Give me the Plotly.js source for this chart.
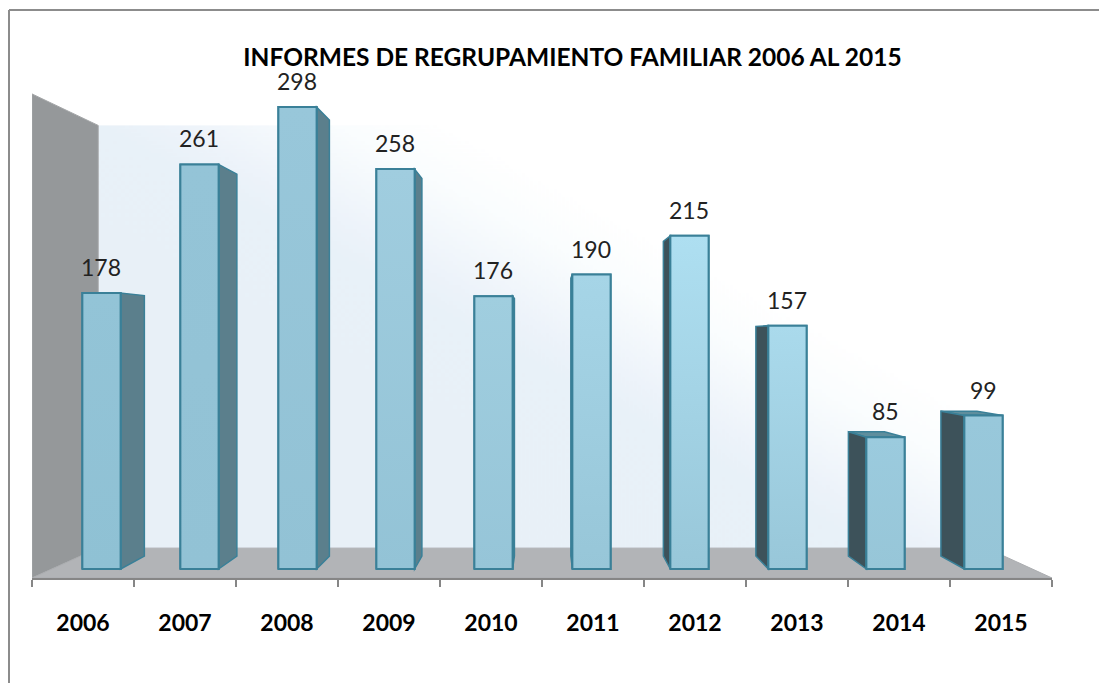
<!DOCTYPE html>
<html>
<head>
<meta charset="utf-8">
<script src="https://cdn.plot.ly/plotly-3.0.1.min.js"></script>
<style>html,body{margin:0;padding:0;background:#fff;overflow:hidden}#chart{width:1099px;height:683px}</style>
</head>
<body>
<div id="chart"></div>
<script>
const years = ['2006','2007','2008','2009','2010','2011','2012','2013','2014','2015'];
const informes = [178,261,298,258,176,190,215,157,85,99];
const topColors = ['#93C4D7','#94C4D7','#98C7DA','#A0CDDF','#A0CEDF','#A6D5E7','#AEDFF1','#AADAEC','#9BCBDE','#98C8DB'];
const baseColors = ['#8FC1D4','#92C2D5','#92C2D5','#93C3D6','#96C5D8','#97C6D8','#98C7D9','#98C7D9','#97C6D8','#96C5D7'];
const chartTitle = 'INFORMES DE REGRUPAMIENTO FAMILIAR 2006 AL 2015';

const barWidth = 0.39, xMin = -0.709, xMax = 9.699, yMin = -5.806, yMax = 360.65;
const vpX = 4.526, vpY = 149, barDepth = 0.056, wallDepth = 0.129, wallTop = 306.5;
const edge = '#3A8098';
const back = (v, vp, k) => v + (vp - v) * k;
const poly = pts => 'M' + pts.map(p => p[0] + ',' + p[1]).join('L') + 'Z';
const dataShape = (pts, fill, line, lw) => ({type:'path', xref:'x', yref:'y', layer:'between', path:poly(pts),
  fillcolor:fill, line:{color:line, width:lw}});

const blx = back(xMin, vpX, wallDepth), brx = back(xMax, vpX, wallDepth);
const bFloor = back(yMin, vpY, wallDepth) - 0.7, bTop = back(wallTop, vpY, wallDepth);

const shapes = [];
shapes.push(dataShape([[xMin,wallTop],[blx,bTop],[blx,bFloor],[xMin,yMin]], '#95989A', '#A3A5A7', 1));
shapes.push(dataShape([[xMin,yMin],[blx,bFloor],[brx,bFloor],[xMax,yMin]], '#B2B4B7', '#ABADB0', 1));

informes.forEach((v,i) => {
  const l = i - barWidth/2, r = i + barWidth/2;
  const left = i > vpX;
  const e = left ? l : r;
  const be = back(e, vpX, barDepth), b0 = back(0, vpY, barDepth), bv = back(v, vpY, barDepth);
  if (v < vpY) {
    shapes.push(dataShape([[l,v],[r,v],[back(r,vpX,barDepth),bv],[back(l,vpX,barDepth),bv]], '#5F8E9D', edge, 1.5));
  }
  shapes.push(dataShape([[e,0],[be,b0],[be,bv],[e,v]], left ? '#3D525A' : '#5B7F8C', edge, 1.5));
});

const bd = '#8C8C8C';
const px = x => (x - 32) / 1020, py = y => (578 - y) / 568;
shapes.push({type:'line', xref:'paper', yref:'paper', x0:px(9), x1:px(1099), y0:py(10), y1:py(10), line:{color:bd, width:2}, layer:'above'});
shapes.push({type:'line', xref:'paper', yref:'paper', x0:px(9), x1:px(9), y0:py(10), y1:py(683), line:{color:bd, width:2}, layer:'above'});

// back wall: diagonal light-blue to white wash
const cv = document.createElement('canvas'); cv.width = 444; cv.height = 211;
const cx = cv.getContext('2d');
const g = cx.createLinearGradient(-145, 112.5, -25, -107);
g.addColorStop(0, '#E8F0F7'); g.addColorStop(.668, '#E8F1F8'); g.addColorStop(.74, '#EDF3FA');
g.addColorStop(.9, '#FAFDFE'); g.addColorStop(1, '#FFFFFF');
cx.fillStyle = g; cx.fillRect(0, 0, 444, 211);

const traces = [
  {type:'bar', x:years, y:informes, width:barWidth, xaxis:'x', yaxis:'y', hoverinfo:'x+y',
   marker:{color:baseColors, line:{color:edge, width:2}}},
  {type:'scatter', mode:'none', x:years, y:informes, xaxis:'x2', yaxis:'y', hoverinfo:'skip', showlegend:false}
];
informes.forEach((v,i) => {
  const l = i - barWidth/2, r = i + barWidth/2;
  traces.push({type:'scatter', mode:'lines', xaxis:'x3', yaxis:'y', hoverinfo:'skip', showlegend:false,
    x:[l,r,r,l,l], y:[0,0,v,v,0], fill:'toself', line:{color:edge, width:2},
    fillgradient:{type:'vertical', start:v, stop:0, colorscale:[[0,topColors[i]],[1,baseColors[i]]]}});
});

const layout = {
  width:1099, height:683, showlegend:false, paper_bgcolor:'#fff', plot_bgcolor:'rgba(0,0,0,0)',
  margin:{l:32, r:47, t:10, b:105, pad:0},
  title:{text:chartTitle, xref:'paper', yref:'container', x:(572.5-32)/1020, xanchor:'center', y:1-57/683, yanchor:'middle',
    font:{family:'Lato', size:24.5, color:'#000', weight:700}},
  xaxis:{type:'category', categoryorder:'array', categoryarray:years, range:[xMin,xMax], visible:false, fixedrange:true},
  xaxis2:{type:'category', categoryorder:'array', categoryarray:years, overlaying:'x', anchor:'y', side:'bottom',
    range:[-0.5,9.5], tickson:'boundaries', ticks:'outside', ticklen:7, tickwidth:2, tickcolor:'#868686',
    showline:true, linecolor:'#868686', linewidth:2, showgrid:false, zeroline:false, ticklabelstandoff:23,
    tickfont:{family:'Lato', size:23, color:'#000', weight:700}, fixedrange:true},
  xaxis3:{type:'linear', overlaying:'x', anchor:'y', range:[xMin,xMax], visible:false, fixedrange:true},
  yaxis:{range:[yMin,yMax], visible:false, fixedrange:true},
  shapes:shapes,
  images:[{source:cv.toDataURL('image/png'), xref:'x', yref:'y', x:blx, y:bTop, sizex:brx-blx, sizey:bTop-bFloor,
    xanchor:'left', yanchor:'top', sizing:'stretch', layer:'below'}],
  annotations:informes.map((v,i)=>({x:i, y:v, xref:'x', yref:'y', text:String(v), showarrow:false,
    yanchor:'middle', xanchor:'center', yshift:26, font:{family:'Lato', size:23, color:'#222'}}))
};
Plotly.newPlot('chart', traces, layout, {displayModeBar:false, responsive:false});
</script>
</body>
</html>
